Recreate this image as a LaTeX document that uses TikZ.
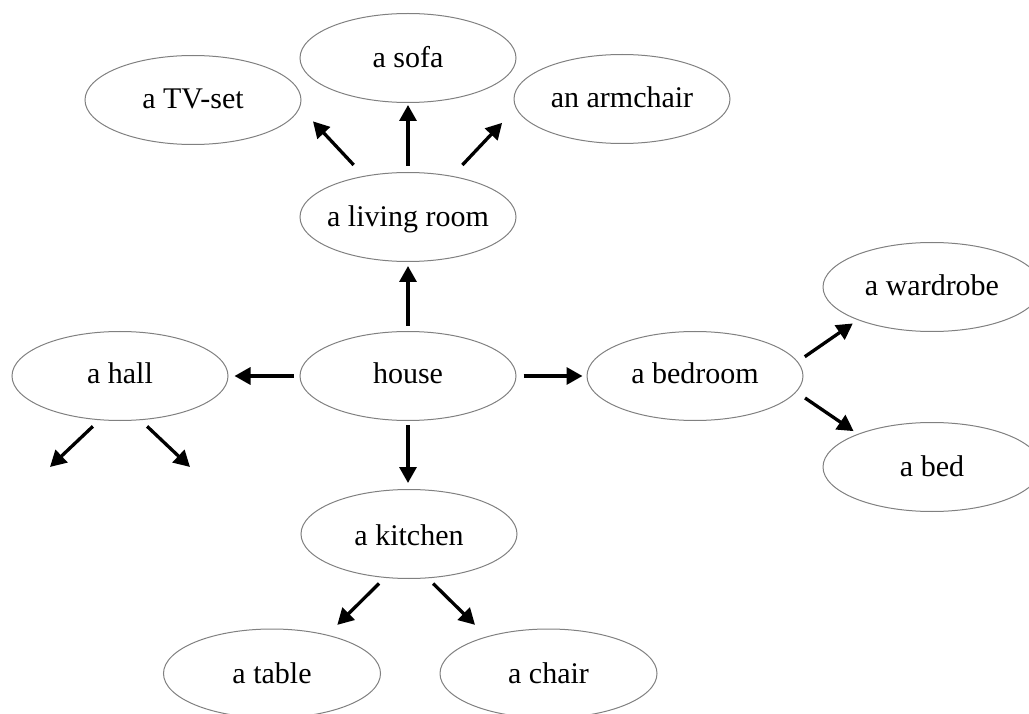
\documentclass[tikz,border=0pt]{standalone}
\usepackage{fontspec}
\setmainfont{Liberation Serif}
\usetikzlibrary{arrows.meta,shapes.geometric}
\begin{document}
\begin{tikzpicture}[x=1pt,y=-1pt,
  oval/.style={ellipse, draw=black!50, line width=1pt, minimum width=216pt, minimum height=89pt,
    inner xsep=-15pt, inner ysep=0pt, font=\fontsize{30}{36}\selectfont, text depth=0pt, text height=#1},
  oval/.default=18pt,
  arr/.style={line width=3.3pt, -{Triangle[length=16pt,width=17pt]}}]
\useasboundingbox (0,0) rectangle (1029,714);
\node[oval=18pt] (tv) at (193,100) {a TV-set};
\node[oval=20pt] (sofa) at (408,58) {a sofa};
\node[oval=18pt] (arm) at (622,99) {an armchair};
\node[oval=20pt] (lr) at (408,217) {a living room};
\node[oval=14pt] (hall) at (120,376) {a hall};
\node[oval=14pt] (house) at (408,376) {house};
\node[oval=14pt] (bedroom) at (695,376) {a bedroom};
\node[oval=17pt, minimum width=218pt] (wardrobe) at (932,287) {a wardrobe};
\node[oval=19pt, minimum width=218pt] (bed) at (932,467) {a bed};
\node[oval=22pt] (kitchen) at (409,534) {a kitchen};
\node[oval=19pt, minimum width=217pt] (table) at (272,673.5) {a table};
\node[oval=19pt, minimum width=217pt] (chair) at (548.5,673.5) {a chair};
\coordinate (h1) at (50,467);
\coordinate (h2) at (190,467);
\draw[arr, shorten <=15pt, shorten >=19pt] (lr.137) -- (tv.-4);
\draw[arr, shorten <=6pt, shorten >=2pt] (lr.north) -- (sofa.south);
\draw[arr, shorten <=15pt, shorten >=20pt] (lr.43) -- (arm.185);
\draw[arr, shorten <=5pt, shorten >=4pt] (house.north) -- (lr.south);
\draw[arr, shorten <=6pt, shorten >=6pt] (house.west) -- (hall.east);
\draw[arr, shorten <=7pt, shorten >=4pt] (house.east) -- (bedroom.west);
\draw[arr, shorten <=4pt, shorten >=6pt] (house.south) -- (house.south |- kitchen.north);
\draw[arr, shorten <=8.5pt, shorten >=6pt] (bedroom.8) -- (wardrobe.204);
\draw[arr, shorten <=10.5pt, shorten >=5pt] (bedroom.-9) -- (bed.156);
\draw[arr, shorten <=8pt, shorten >=14pt] (kitchen.241) -- (table.35);
\draw[arr, shorten <=7.5pt, shorten >=16.5pt] (kitchen.-67) -- (chair.149);
\draw[arr, shorten <=9pt] (hall.245) -- (h1);
\draw[arr, shorten <=9pt] (hall.-65) -- (h2);
\end{tikzpicture}
\end{document}
